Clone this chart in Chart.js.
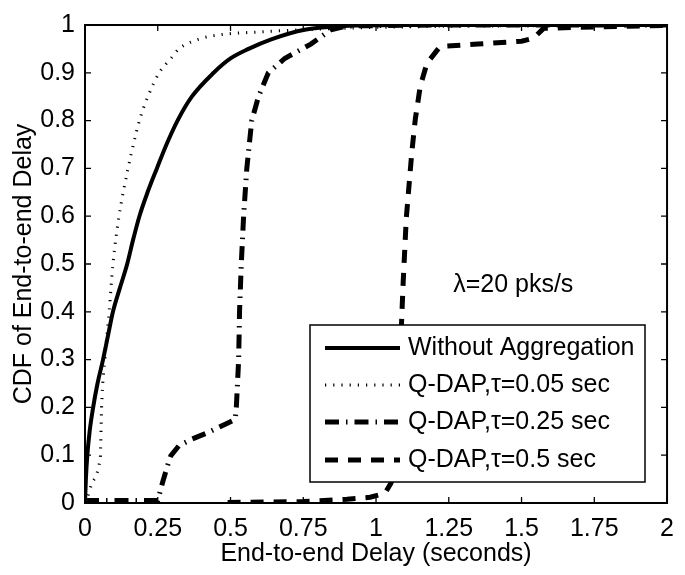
<!DOCTYPE html>
<html>
<head>
<meta charset="utf-8">
<script src="https://cdn.jsdelivr.net/npm/chart.js@4/dist/chart.umd.min.js"></script>
<style>
html,body{margin:0;padding:0;background:#fff;}
#wrap{width:685px;height:575px;position:relative;}
</style>
</head>
<body>
<div id="wrap"><canvas id="c" width="685" height="575"></canvas></div>
<script>
// ---- tick labels ----
const xTickLabels = ['0','0.25','0.5','0.75','1','1.25','1.5','1.75','2'];
const yTickLabels = ['0','0.1','0.2','0.3','0.4','0.5','0.6','0.7','0.8','0.9','1'];

// ---- series names ----
const seriesNames = ['Without Aggregation','Q-DAP,\u03c4=0.05 sec','Q-DAP,\u03c4=0.25 sec','Q-DAP,\u03c4=0.5 sec'];
const annotationText = '\u03bb=20 pks/s';

// ---- Without Aggregation (solid) ----
const noAggX = [0, 0.003, 0.008, 0.016, 0.028, 0.043, 0.062, 0.079, 0.096, 0.12, 0.145, 0.165, 0.187, 0.215, 0.247, 0.28, 0.318, 0.367, 0.442, 0.5, 0.562, 0.64, 0.755, 0.89, 1.1, 2.0];
const noAggY = [0, 0.05, 0.1, 0.15, 0.2, 0.25, 0.3, 0.35, 0.4, 0.45, 0.5, 0.55, 0.6, 0.65, 0.7, 0.75, 0.8, 0.85, 0.9, 0.93, 0.95, 0.97, 0.99, 0.998, 1.0, 1.0];

// ---- Q-DAP tau=0.05 (dotted) ----
const tau005X = [0, 0.01, 0.023, 0.04, 0.05, 0.053, 0.057, 0.068, 0.083, 0.096, 0.117, 0.148, 0.187, 0.216, 0.255, 0.295, 0.323, 0.39, 0.47, 0.584, 0.75, 1.0, 2.0];
const tau005Y = [0, 0.015, 0.04, 0.06, 0.085, 0.1, 0.2, 0.3, 0.4, 0.5, 0.6, 0.7, 0.8, 0.85, 0.9, 0.93, 0.95, 0.97, 0.98, 0.985, 0.99, 0.995, 1.0];

// ---- Q-DAP tau=0.25 (dash-dot) ----
const tau025X = [0, 0.25, 0.267, 0.284, 0.295, 0.323, 0.369, 0.425, 0.482, 0.516, 0.52, 0.528, 0.531, 0.537, 0.545, 0.556, 0.573, 0.596, 0.63, 0.686, 0.776, 0.845, 0.9, 1.2, 2.0];
const tau025Y = [0.005, 0.005, 0.044, 0.079, 0.099, 0.12, 0.134, 0.148, 0.165, 0.175, 0.2, 0.3, 0.4, 0.5, 0.6, 0.7, 0.8, 0.85, 0.9, 0.93, 0.96, 0.99, 0.998, 1.0, 1.0];

// ---- Q-DAP tau=0.5 (dashed) ----
const tau05X = [0.49, 0.75, 0.9, 0.98, 1.03, 1.05, 1.063, 1.075, 1.084, 1.093, 1.104, 1.123, 1.135, 1.152, 1.175, 1.22, 1.35, 1.5, 1.54, 1.576, 1.75, 2.0];
const tau05Y = [0.001, 0.003, 0.008, 0.012, 0.02, 0.04, 0.058, 0.182, 0.321, 0.458, 0.596, 0.734, 0.803, 0.872, 0.92, 0.955, 0.96, 0.966, 0.972, 0.993, 0.996, 0.999];

function pts(xs, ys){ return xs.map((v,i)=>({x:v, y:ys[i]})); }

const FONT = '"Liberation Sans", Arial, Helvetica, sans-serif';
Chart.defaults.font.family = FONT;
Chart.defaults.color = '#000';

const framePlugin = {
  id: 'frame',
  afterDatasetsDraw(chart) {
    const {ctx, chartArea: a, scales: {x, y}} = chart;
    ctx.save();
    // inward tick marks on all four sides
    ctx.strokeStyle = '#000';
    ctx.lineWidth = 1.3;
    ctx.setLineDash([]);
    ctx.beginPath();
    x.ticks.forEach(t => {
      const px = x.getPixelForValue(t.value);
      ctx.moveTo(px, a.bottom); ctx.lineTo(px, a.bottom - 6);
      ctx.moveTo(px, a.top); ctx.lineTo(px, a.top + 6);
    });
    y.ticks.forEach(t => {
      const py = y.getPixelForValue(t.value);
      ctx.moveTo(a.left, py); ctx.lineTo(a.left + 6, py);
      ctx.moveTo(a.right, py); ctx.lineTo(a.right - 6, py);
    });
    ctx.stroke();
    // box
    ctx.lineWidth = 2;
    ctx.strokeRect(a.left, a.top, a.right - a.left, a.bottom - a.top);

    // annotation
    ctx.fillStyle = '#000';
    ctx.font = '25px ' + FONT;
    ctx.textAlign = 'left';
    ctx.textBaseline = 'middle';
    ctx.fillText(annotationText, x.getPixelForValue(1.265), y.getPixelForValue(0.455));

    // legend
    const lx = a.left + 225, ly = a.top + 300, lw = 335, lh = 157;
    ctx.fillStyle = '#fff';
    ctx.fillRect(lx, ly, lw, lh);
    ctx.lineWidth = 1.5;
    ctx.strokeStyle = '#000';
    ctx.strokeRect(lx, ly, lw, lh);
    const rows = [23, 60, 97, 135];
    chart.data.datasets.forEach((ds, i) => {
      const ry = ly + rows[i];
      ctx.save();
      ctx.beginPath();
      ctx.lineWidth = ds.borderWidth;
      ctx.setLineDash(ds.borderDash || []);
      ctx.lineCap = 'butt';
      ctx.moveTo(lx + 15, ry);
      ctx.lineTo(lx + 90, ry);
      ctx.stroke();
      ctx.restore();
      ctx.fillStyle = '#000';
      ctx.font = '25px ' + FONT;
      ctx.textAlign = 'left';
      ctx.textBaseline = 'middle';
      ctx.fillText(ds.label, lx + 98, ry);
    });
    ctx.restore();
  }
};

new Chart(document.getElementById('c'), {
  type: 'line',
  data: {
    datasets: [
      { label: seriesNames[0], data: pts(noAggX, noAggY), borderColor: '#000', borderWidth: 4, borderDash: [], cubicInterpolationMode: 'monotone' },
      { label: seriesNames[1], data: pts(tau005X, tau005Y), borderColor: '#000', borderWidth: 3, borderDash: [1.2, 7], cubicInterpolationMode: 'monotone' },
      { label: seriesNames[2], data: pts(tau025X, tau025Y), borderColor: '#000', borderWidth: 5, borderDash: [14, 7, 1.5, 7] },
      { label: seriesNames[3], data: pts(tau05X, tau05Y), borderColor: '#000', borderWidth: 5, borderDash: [13, 10] }
    ]
  },
  options: {
    responsive: false,
    animation: false,
    devicePixelRatio: 1,
    elements: { point: { radius: 0 }, line: { tension: 0, borderCapStyle: 'butt' } },
    layout: { padding: { top: 20, right: 12.5, left: 0, bottom: 0 } },
    plugins: { legend: { display: false }, tooltip: { enabled: false } },
    scales: {
      x: {
        type: 'linear', min: 0, max: 2,
        grid: { display: false, drawTicks: false },
        border: { display: false },
        ticks: {
          stepSize: 0.25, autoSkip: false, maxRotation: 0, padding: 11,
          font: { size: 25 }, color: '#000',
          callback: (v, i) => xTickLabels[i]
        },
        title: { display: true, text: 'End-to-end Delay (seconds)', font: { size: 25 }, color: '#000', padding: { top: 0, bottom: 6 } },
        afterFit: s => { s.height = 72; }
      },
      y: {
        type: 'linear', min: 0, max: 1,
        grid: { display: false, drawTicks: false },
        border: { display: false },
        ticks: {
          stepSize: 0.1, autoSkip: false, padding: 10,
          font: { size: 25 }, color: '#000',
          callback: (v, i) => yTickLabels[i]
        },
        title: { display: true, text: 'CDF of End-to-end Delay', font: { size: 25 }, color: '#000', padding: { top: 9, bottom: 0 } },
        afterFit: s => { s.width = 85; }
      }
    }
  },
  plugins: [framePlugin]
});
</script>
</body>
</html>
